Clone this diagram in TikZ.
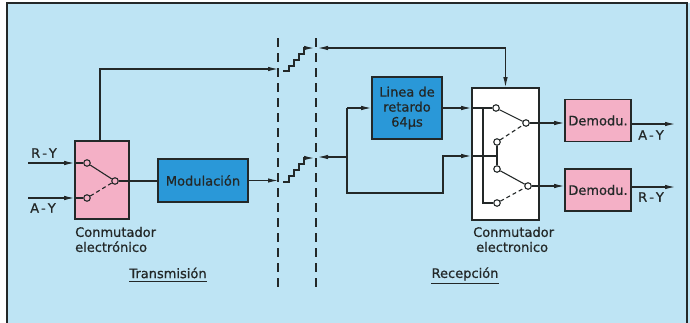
\documentclass[tikz,border=0pt]{standalone}
\usepackage{fontspec}
\setmainfont{DejaVu Sans}[FakeBold=0.7]
\usetikzlibrary{arrows.meta}
\definecolor{bg}{RGB}{190,228,244}
\definecolor{pinkbox}{RGB}{244,176,198}
\definecolor{bluebox}{RGB}{42,152,216}
\definecolor{ink}{RGB}{35,40,40}
\begin{document}
\begin{tikzpicture}[x=1pt,y=-1pt,
  font=\fontsize{13}{15}\selectfont,
  wire/.style={draw=ink,line width=1.1pt},
  arr/.style={wire,-{Latex[length=10pt,width=4.5pt]}},
  biarr/.style={wire,{Latex[length=10pt,width=4.5pt]}-{Latex[length=10pt,width=4.5pt]}},
  box/.style={draw=ink,line width=1.6pt,inner sep=0pt,text=ink,align=center},
  pinkb/.style={box,fill=pinkbox},
  blueb/.style={box,fill=bluebox},
  whiteb/.style={box,fill=white},
  contact/.style={circle,draw=ink,line width=1.1pt,inner sep=0pt,minimum size=6.5pt},
  swdash/.style={wire,dash pattern=on 4pt off 3pt},
  sepline/.style={draw=ink,line width=1.2pt,dash pattern=on 9pt off 6pt},
  lbl/.style={inner sep=0pt,text=ink},
  uline/.style={draw=ink,line width=1pt}]
\useasboundingbox (0,0) rectangle (690,322);
% panel
\fill[bg] (7,3) rectangle (690,330);
\draw[ink,line width=1.5pt] (7,330) -- (7,3) -- (687,3) -- (687,330);

% boxes
\node[pinkb,minimum width=54pt,minimum height=78pt] (tx) at (102,180) {};
\node[blueb,minimum width=90pt,minimum height=43pt] (mod) at (203,180.5) {Modulación};
\node[blueb,minimum width=70pt,minimum height=62pt] (delay) at (407,108) {Linea de\\retardo\\64µs};
\node[whiteb,minimum width=67pt,minimum height=132pt] (rx) at (505.5,154) {};
\node[pinkb,minimum width=66pt,minimum height=42pt] (dem1) at (598,120.5) {Demodu.};
\node[pinkb,minimum width=66pt,minimum height=42pt] (dem2) at (598,190) {Demodu.};

% separation lines
\coordinate (dl1t) at (278,38); \coordinate (dl1b) at (278,292);
\coordinate (dl2t) at (316,38); \coordinate (dl2b) at (316,292);
\draw[sepline] (dl1t) -- (dl1b);
\draw[sepline] (dl2t) -- (dl2b);

% transmitter switch
\node[contact] (c1) at (87,163) {};
\node[contact] (c2) at (87,198) {};
\node[contact] (p) at (115,181) {};
\draw[wire] (c1) -- (p);
\draw[swdash] (c2) -- (p);
\coordinate (rin) at (28,163);
\coordinate (ain) at (28,198);
\draw[arr] (rin) -- (rin -| tx.west);
\draw[wire] (rin -| tx.west) -- (c1);
\draw[arr] (ain) -- (ain -| tx.west);
\draw[wire] (ain -| tx.west) -- (c2);
\draw[wire] (p) -- (p -| mod.west);
\node[lbl] (lry) at (44,153) {R\kern2pt-\kern2pt Y};
\node[lbl] (lay) at (43,208) {A\kern2pt-\kern2pt Y};

% transmitter outputs
\coordinate (ctl) at (278,69);
\draw[arr] ([xshift=-2pt]tx.north) |- (ctl);
\draw[arr] (mod.east) -- (mod.east -| dl1t);

% stairs
\coordinate (s1) at (283,71);
\draw[arr] (s1) -- ++(6,0) -- ++(0,-5) -- ++(5,0) -- ++(0,-6) -- ++(5,0) -- ++(0,-6) -- ++(5,0) -- ++(0,-6) -- ++(10,0);
\coordinate (s2) at (283,182);
\draw[arr] (s2) -- ++(6,0) -- ++(0,-6) -- ++(5,0) -- ++(0,-6) -- ++(5,0) -- ++(0,-6) -- ++(5,0) -- ++(0,-6) -- ++(10,0);

% receiver inputs
\coordinate (rtl) at (318,48);
\draw[biarr] (rtl) -| (rx.north);
\coordinate (junc) at (347,157);
\coordinate (rbl) at (318,157);
\draw[arr] (junc) -- (rbl);
\coordinate (j1) at (347,108);
\coordinate (j2) at (347,193);
\coordinate (k2) at (443,156);
\draw[arr] (j1) -- (delay.west);
\draw[arr] (j1) -- (j2) -| (k2) -- (k2 -| rx.west);

% receiver switch
\node[contact] (r1) at (496,108) {};
\node[contact] (r2) at (497,142) {};
\node[contact] (r3) at (497,169) {};
\node[contact] (r4) at (497,203) {};
\node[contact] (q1) at (526,123) {};
\node[contact] (q2) at (528,186) {};
\draw[arr] (delay.east) -- (delay.east -| rx.west);
\draw[wire] (delay.east -| rx.west) -- (r1);
\coordinate (v1) at (483,108);
\coordinate (v2) at (483,203);
\draw[wire] (v1) -- (v2) -- (r4);
\draw[wire] (k2 -| rx.west) -- (k2 -| r2);
\draw[wire] (r2) -- (r3);
\draw[wire] (r1) -- (q1);
\draw[swdash] (r2) -- (q1);
\draw[wire] (r3) -- (q2);
\draw[swdash] (r4) -- (q2);
\draw[arr] (q1) -- (q1 -| dem1.west);
\draw[arr] (q2) -- (q2 -| dem2.west);

% outputs
\coordinate (o1) at (675,124);
\coordinate (o2) at (675,187);
\draw[arr] (dem1.east |- o1) -- (o1);
\draw[arr] (dem2.east |- o2) -- (o2);
\node[lbl] (lay2) at (651,135) {A\kern2pt-\kern2pt Y};
\node[lbl] (lry2) at (651,197) {R\kern2pt-\kern2pt Y};

% captions
\node[lbl,anchor=west,align=left] (txcap) at (75,239.5) {Conmutador\\electrónico};
\node[lbl,anchor=west,align=left] (rxcap) at (473,239.5) {Conmutador\\\kern3pt electronico};
\node[lbl] (trans) at (168,273) {Transmisión};
\draw[uline] ([yshift=-3pt]trans.south west) -- ([yshift=-3pt]trans.south east);
\node[lbl] (recep) at (465,274) {Recepción};
\draw[uline] ([yshift=-3pt]recep.south west) -- ([yshift=-3pt]recep.south east);
\end{tikzpicture}
\end{document}
